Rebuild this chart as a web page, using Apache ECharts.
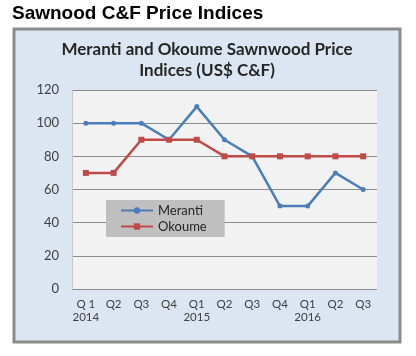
<!DOCTYPE html>
<html><head><meta charset="utf-8">
<script src="https://cdn.jsdelivr.net/npm/echarts@6/dist/echarts.min.js"></script>
<style>html,body{margin:0;padding:0;background:#fff;}#c{width:416px;height:356px;}</style>
</head><body><div id="c"></div>
<script>
const quarters = ['Q 1','Q2','Q3','Q4','Q1','Q2','Q3','Q4','Q1','Q2','Q3'];
const years = ['2014','','','','2015','','','','2016','',''];
const meranti = [100,100,100,90,110,90,80,50,50,70,60];
const okoume = [70,70,90,90,90,80,80,80,80,80,80];
const yTicks = {min:0, max:120, interval:20};

const categories = quarters.map((q,i)=> years[i] ? q + '\n' + years[i] : q);
const chart = echarts.init(document.getElementById('c'), null, {renderer:'canvas'});
const font = 'Lato, "Open Sans", sans-serif';
chart.setOption({
  animation:false,
  backgroundColor:'#ffffff',
  graphic:[
    {type:'rect', z:-10, shape:{x:14,y:29,width:386,height:313}, style:{fill:'#dce6f2', stroke:'#8c8c8c', lineWidth:3}},
    {type:'text', left:12, top:4, style:{text:'Sawnood C&F Price Indices', font:'bold 19px "Liberation Sans", Arial, sans-serif', fill:'#000'}},
    {type:'text', x:207, y:50, style:{text:'Meranti and Okoume Sawnwood Price', font:'bold 17px '+font, fill:'#262626', align:'center', verticalAlign:'middle'}},
    {type:'text', x:207, y:71, style:{text:'Indices (US$ C&F)', font:'bold 17px '+font, fill:'#262626', align:'center', verticalAlign:'middle'}}
  ],
  grid:{left:72, right:39, top:90, bottom:67, show:true, backgroundColor:'#f2f2f2', borderWidth:0},
  legend:{
    orient:'vertical', left:106, top:200, backgroundColor:'#bfbfbf', borderRadius:0,
    padding:[4,18,4,14], itemGap:3, itemWidth:32, itemHeight:8,
    textStyle:{fontFamily:font, fontSize:13, color:'#262626'},
    data:['Meranti','Okoume']
  },
  xAxis:{
    type:'category', data:categories, boundaryGap:true,
    axisLine:{show:false}, axisTick:{show:false},
    axisLabel:{fontFamily:font, fontSize:11.5, color:'#404040', margin:9, interval:0, lineHeight:13}
  },
  yAxis:{
    type:'value', min:yTicks.min, max:yTicks.max, interval:yTicks.interval,
    axisLine:{show:true, lineStyle:{color:'#c8c8c8', width:1}}, axisTick:{show:false},
    axisLabel:{fontFamily:font, fontSize:13, color:'#404040', margin:13},
    splitLine:{lineStyle:{color:'#8c8c8c', width:1}}
  },
  series:[
    {name:'Meranti', type:'line', data:meranti, symbol:'circle', symbolSize:5,
     lineStyle:{color:'#4a7ebb', width:2.5}, itemStyle:{color:'#4a7ebb'}},
    {name:'Okoume', type:'line', data:okoume, symbol:'rect', symbolSize:6,
     lineStyle:{color:'#be4b48', width:2.5}, itemStyle:{color:'#be4b48'}}
  ]
});
</script></body></html>
